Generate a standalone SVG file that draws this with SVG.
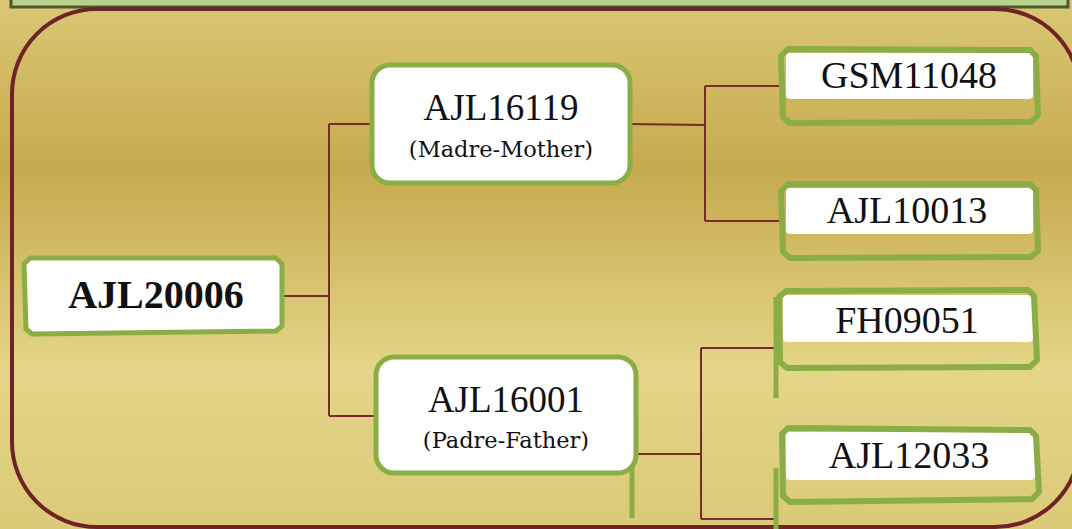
<svg xmlns="http://www.w3.org/2000/svg" width="1072" height="529" viewBox="0 0 1072 529">
<defs>
<linearGradient id="bg" x1="0" y1="0" x2="0" y2="1">
<stop offset="0" stop-color="#dac774"/>
<stop offset="0.32" stop-color="#c6aa4e"/>
<stop offset="0.7" stop-color="#e4d588"/>
<stop offset="1" stop-color="#dac977"/>
</linearGradient>
<style>
.box{fill:#ffffff;stroke:#8aae45;stroke-width:5;stroke-linejoin:round}
.leaf{fill:none;stroke:#8aae45;stroke-width:6;stroke-linejoin:round}
.gloss{fill:#ffffff}
.lbl{font-family:"Liberation Serif",serif;fill:#111;text-anchor:middle}
.sub{font-family:"DejaVu Serif","Liberation Serif",serif;fill:#111;text-anchor:middle;font-size:22.5px}
.con{fill:none;stroke:#7a2a2a;stroke-width:2}
.gl{stroke:#8aae45;stroke-width:5}
</style>
</defs>
<rect x="0" y="0" width="1072" height="529" fill="url(#bg)"/>
<rect x="11" y="-10" width="1057" height="17" fill="#b7d18d" stroke="#4a5a2a" stroke-width="3"/>
<rect x="12" y="9" width="1068" height="518" rx="85" ry="85" fill="none" stroke="#702226" stroke-width="4"/>

<g id="connectors">
<path class="con" d="M282,296 H329 M329,124 V416 M329,124 H372 M329,416 H375"/>
<path class="con" d="M630,124 L705,125 M705,86 V221 M705,86 H781 M705,221 H781"/>
<path class="con" d="M637,454 H701 M701,348 V519 M701,348 H778 M701,519 H776"/>
<line class="gl" x1="632" y1="453" x2="632" y2="518"/>
<line class="gl" x1="776" y1="297" x2="776" y2="398"/>
<line class="gl" x1="776" y1="468" x2="776" y2="529"/>
</g>

<g id="n-AJL20006">
<polygon class="box" points="30,258 276,258 282,264 282,326 276,331 32,334 26,329 24,264"/>
<text class="lbl" x="156" y="308" font-size="40" font-weight="bold">AJL20006</text>
</g>

<g id="n-AJL16119">
<rect class="box" x="372" y="65" width="258" height="118" rx="18" ry="18"/>
<text class="lbl" x="501" y="120" font-size="37">AJL16119</text>
<text class="sub" x="501" y="157">(Madre-Mother)</text>
</g>

<g id="n-AJL16001">
<rect class="box" x="376" y="357" width="260" height="116" rx="18" ry="18"/>
<text class="lbl" x="506" y="412" font-size="37">AJL16001</text>
<text class="sub" x="506" y="448">(Padre-Father)</text>
</g>

<g id="n-GSM11048">
<path class="gloss" d="M786,53 H1033 V95 Q1033,99 1028,99 H791 Q786,99 786,95 Z"/>
<polygon class="leaf" points="788,49 1030,50 1036,56 1038,115 1031,122 790,123 783,117 781,56"/>
<text class="lbl" x="909" y="88" font-size="38">GSM11048</text>
</g>

<g id="n-AJL10013">
<path class="gloss" d="M786,188 H1033 V230 Q1033,234 1028,234 H791 Q786,234 786,230 Z"/>
<polygon class="leaf" points="788,184 1030,184 1036,190 1038,251 1031,257 790,258 783,252 781,191"/>
<text class="lbl" x="907" y="223" font-size="38">AJL10013</text>
</g>

<g id="n-FH09051">
<path class="gloss" d="M783,295 H1033 V338 Q1033,342 1028,342 H788 Q783,342 783,338 Z"/>
<polygon class="leaf" points="786,291 1028,290 1034,296 1037,360 1030,367 787,368 780,362 779,297"/>
<text class="lbl" x="907" y="333" font-size="38">FH09051</text>
</g>

<g id="n-AJL12033">
<path class="gloss" d="M786,432 H1035 V476 Q1035,480 1030,480 H791 Q786,480 786,476 Z"/>
<polygon class="leaf" points="788,428 1030,430 1036,436 1039,492 1032,499 790,502 783,496 782,434"/>
<text class="lbl" x="909" y="468" font-size="38">AJL12033</text>
</g>
</svg>
